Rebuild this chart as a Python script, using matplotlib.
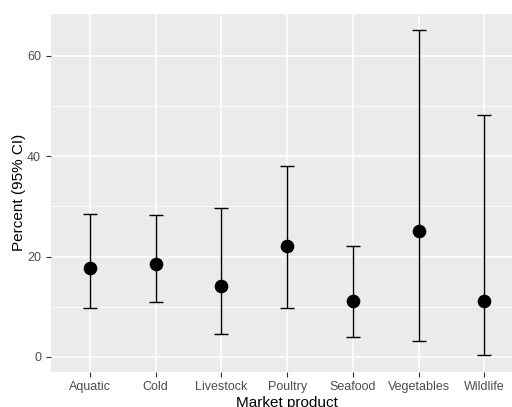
import matplotlib
matplotlib.use("Agg")
import matplotlib.pyplot as plt
import numpy as np

categories = ["Aquatic", "Cold", "Livestock", "Poultry", "Seafood", "Vegetables", "Wildlife"]
estimate = [17.8, 18.5, 14.2, 22.2, 11.2, 25.1, 11.2]
lower = [9.7, 11.0, 4.65, 9.8, 4.05, 3.2, 0.3]
upper = [28.5, 28.2, 29.6, 38.1, 22.2, 65.1, 48.3]
yticks = [0, 20, 40, 60]
yminor = [10, 30, 50]

plt.rcParams['font.family'] = ['Liberation Sans', 'DejaVu Sans']

W, H = 512, 407
fig = plt.figure(figsize=(W / 100, H / 100), dpi=100)
fig.patch.set_facecolor("white")
left_px, right_px, top_px, bot_px = 50.6, 523.7, 14.0, 371.7
ax = fig.add_axes([left_px / W, (H - bot_px) / H, (right_px - left_px) / W, (bot_px - top_px) / H])
ax.set_facecolor("#EBEBEB")
for s in ax.spines.values():
    s.set_visible(False)

x = np.arange(len(categories))
lo = np.array(lower)
hi = np.array(upper)
est = np.array(estimate)

# grid
for v in yminor:
    ax.axhline(v, color="white", lw=0.6, zorder=0)
for v in yticks:
    ax.axhline(v, color="white", lw=1.2, zorder=0)
for xi in x:
    ax.axvline(xi, color="white", lw=1.2, zorder=0)

ax.errorbar(x, est, yerr=[est - lo, hi - est], fmt="none", ecolor="black",
            elinewidth=1.0, capsize=4.7, capthick=1.0, zorder=2)
ax.plot(x, est, "o", color="black", markersize=8.8, zorder=3)

rng = hi.max() - lo.min()
ax.set_ylim(lo.min() - 0.05 * rng, hi.max() + 0.05 * rng)
ax.set_xlim(-0.6, len(categories) - 1 + 0.6)
ax.set_yticks(yticks)
ax.set_xticks(x)
ax.set_xticklabels(categories)
ax.tick_params(axis="both", colors="#333333", length=3.8, width=0.8, labelsize=9,
               labelcolor="#4D4D4D", pad=3.0)
ax.set_ylabel("Percent (95% CI)", fontsize=11, color="black", labelpad=0.5)
ax.set_xlabel("Market product", fontsize=11, color="black", labelpad=2)

fig.savefig("out.png", dpi=100, facecolor="white")
